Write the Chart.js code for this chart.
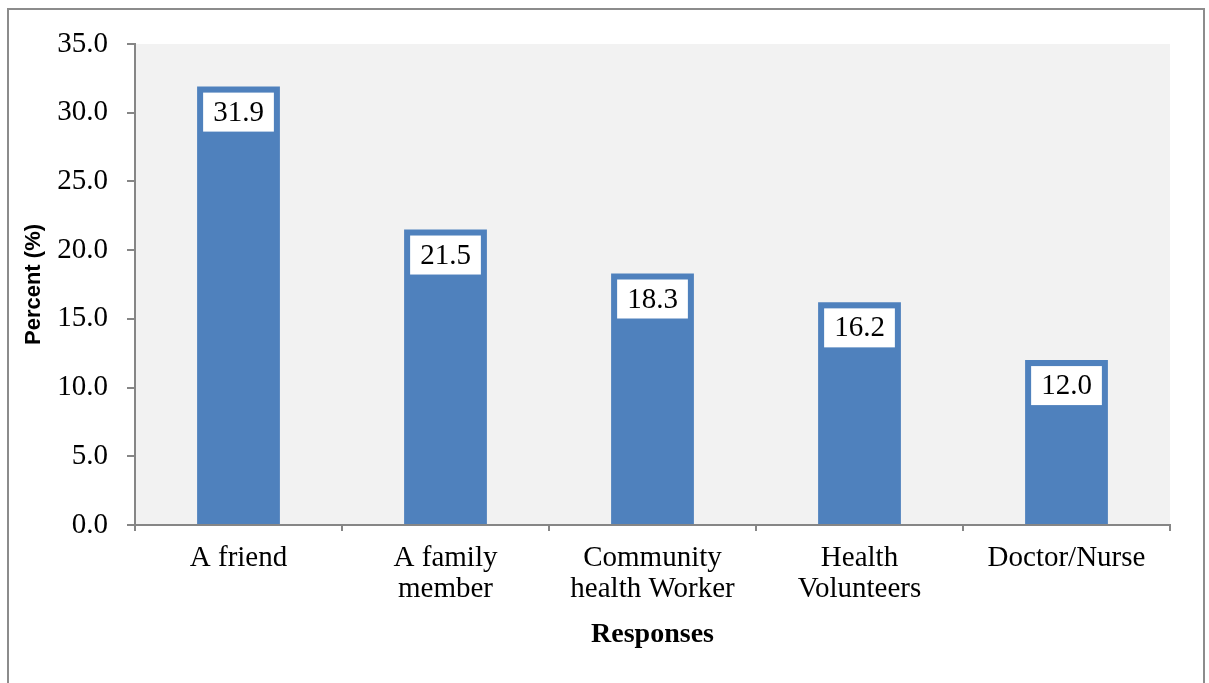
<!DOCTYPE html>
<html>
<head>
<meta charset="utf-8">
<script src="https://cdn.jsdelivr.net/npm/chart.js@4/dist/chart.umd.min.js"></script>
<style>
  html, body { margin: 0; padding: 0; background: #ffffff; }
  #wrap { width: 1209px; height: 683px; position: relative; }
</style>
</head>
<body>
<div id="wrap"><canvas id="chart" width="1209" height="683"></canvas></div>
<script>
// Who respondents heard it from
const categories = [
  ['A friend'],
  ['A family', 'member'],
  ['Community', 'health Worker'],
  ['Health', 'Volunteers'],
  ['Doctor/Nurse']
];
const percents = [31.9, 21.5, 18.3, 16.2, 12.0];
const yTicks = [0, 5, 10, 15, 20, 25, 30, 35];

const AXIS_GREY = '#868686';
const BAR_BLUE = '#4f81bd';
const SERIF = "'Liberation Serif', 'Times New Roman', serif";

// Outer frame and light plot background
const framePlugin = {
  id: 'frame',
  beforeDraw(chart) {
    const { ctx, chartArea: a } = chart;
    ctx.save();
    ctx.fillStyle = '#ffffff';
    ctx.fillRect(0, 0, chart.width, chart.height);
    ctx.fillStyle = '#f2f2f2';
    ctx.fillRect(a.left, a.top, a.right - a.left, a.bottom - a.top);
    ctx.strokeStyle = '#8c8c8c';
    ctx.lineWidth = 2;
    ctx.strokeRect(8, 9, 1196, 720);
    ctx.restore();
  }
};

// Value boxes inside the top of each bar
const valueBoxPlugin = {
  id: 'valueBoxes',
  afterDatasetsDraw(chart) {
    const { ctx } = chart;
    const meta = chart.getDatasetMeta(0);
    ctx.save();
    ctx.font = '29px ' + SERIF;
    ctx.textAlign = 'center';
    ctx.textBaseline = 'middle';
    meta.data.forEach((bar, i) => {
      const text = percents[i].toFixed(1);
      const w = ctx.measureText(text).width + 20;
      const h = 39;
      const top = bar.y + 6;
      ctx.fillStyle = '#ffffff';
      ctx.fillRect(bar.x - w / 2, top, w, h);
      ctx.fillStyle = '#000000';
      ctx.fillText(text, bar.x, top + h / 2 + 1);
    });
    ctx.restore();
  }
};

new Chart(document.getElementById('chart'), {
  type: 'bar',
  data: {
    labels: categories,
    datasets: [{
      data: percents,
      backgroundColor: BAR_BLUE,
      borderWidth: 0,
      categoryPercentage: 1.0,
      barPercentage: 0.4
    }]
  },
  options: {
    responsive: false,
    animation: false,
    devicePixelRatio: 1,
    layout: { padding: { left: 0, right: 39, top: 44, bottom: 0 } },
    plugins: {
      legend: { display: false },
      tooltip: { enabled: false },
      title: { display: false }
    },
    scales: {
      x: {
        offset: true,
        afterFit(scale) { scale.height = 158; },
        border: { color: AXIS_GREY, width: 2 },
        grid: {
          offset: true,
          drawOnChartArea: false,
          drawTicks: true,
          tickLength: 6,
          color: AXIS_GREY,
          lineWidth: 2
        },
        ticks: {
          color: '#000000',
          padding: 12,
          maxRotation: 0,
          autoSkip: false,
          font: { family: SERIF, size: 29, lineHeight: 1.06 }
        },
        title: {
          display: true,
          text: 'Responses',
          color: '#000000',
          font: { family: SERIF, size: 28, weight: 'bold', lineHeight: 1.2 },
          padding: { top: 0, bottom: 31 }
        }
      },
      y: {
        min: 0,
        max: 35,
        afterFit(scale) { scale.width = 135; },
        afterBuildTicks(scale) { scale.ticks = yTicks.map(v => ({ value: v })); },
        border: { color: AXIS_GREY, width: 2 },
        grid: {
          drawOnChartArea: false,
          drawTicks: true,
          tickLength: 8,
          color: AXIS_GREY,
          lineWidth: 2
        },
        ticks: {
          color: '#000000',
          padding: 19,
          font: { family: SERIF, size: 29 },
          callback: v => Number(v).toFixed(1)
        },
        title: {
          display: true,
          text: 'Percent (%)',
          color: '#000000',
          font: { family: "'Liberation Sans', Arial, sans-serif", size: 22, weight: 'bold', lineHeight: 1.2 },
          padding: { top: 21, bottom: 0 }
        }
      }
    }
  },
  plugins: [framePlugin, valueBoxPlugin]
});
</script>
</body>
</html>
